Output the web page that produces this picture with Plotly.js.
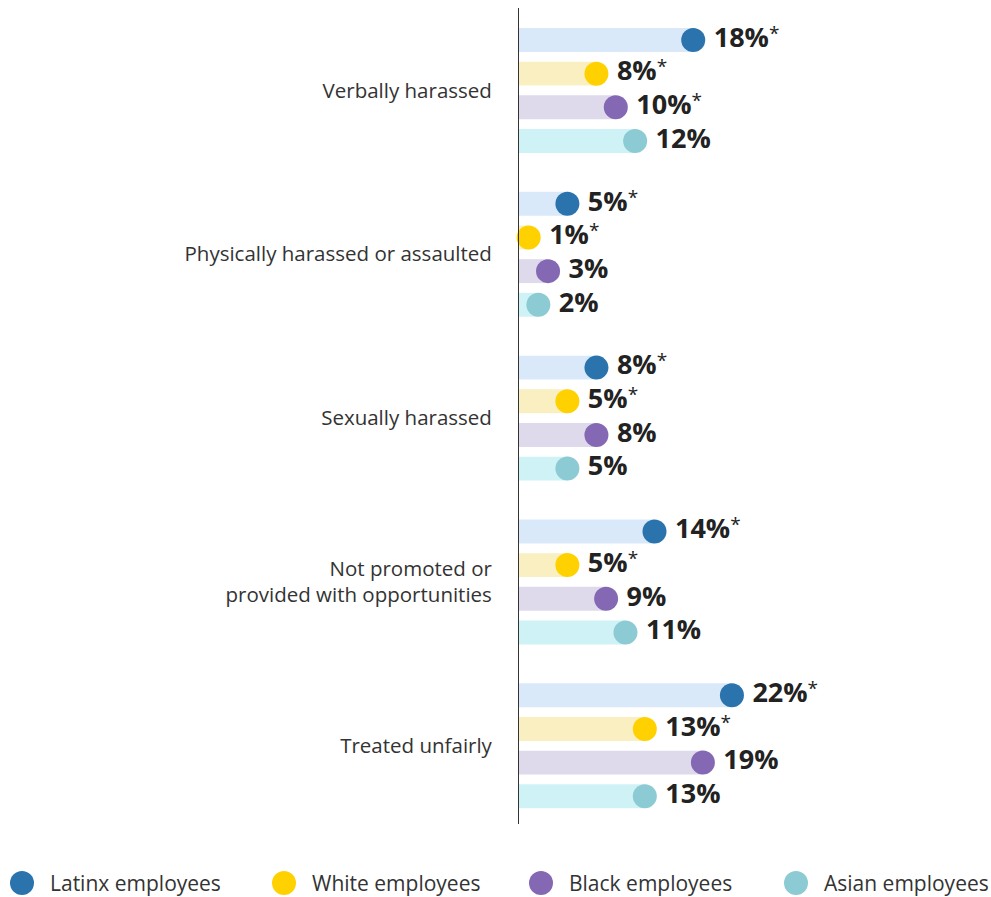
<!DOCTYPE html>
<html>
<head>
<meta charset="utf-8">
<script src="https://cdn.plot.ly/plotly-3.0.1.min.js"></script>
<style>
  html, body { margin: 0; padding: 0; background: #ffffff; }
  #chart { width: 991px; height: 897px; }
</style>
</head>
<body>
<div id="chart"></div>
<script>
// ---- data ----
const categories = [
  'Verbally harassed',
  'Physically harassed or assaulted',
  'Sexually harassed',
  'Not promoted or<br>provided with opportunities',
  'Treated unfairly'
];
const seriesNames = ['Latinx employees', 'White employees', 'Black employees', 'Asian employees'];
const latinx = [18, 5, 8, 14, 22];
const white  = [8, 1, 5, 5, 13];
const black  = [10, 3, 8, 9, 19];
const asian  = [12, 2, 5, 11, 13];
const latinxSig = [true, true, true, true, true];
const whiteSig  = [true, true, true, true, true];
const blackSig  = [true, false, false, false, false];
const asianSig  = [false, false, false, false, false];

// ---- styles ----
const dotColors = ['#2a73ad', '#ffd100', '#8468b4', '#8ccbd4'];
const barColors = ['#d9e9fa', '#f9efc1', '#dfdaeb', '#cff2f6'];
const GROUP_STEP = 164 / 33.7;  // spacing between category groups (in row units)

const W = 991, H = 897;
const M = { l: 519, r: 20, t: 8, b: 73 };
const plotW = W - M.l - M.r, plotH = H - M.t - M.b;
const legendDotX = [22, 284, 541, 796];   // legend layout (pixels)
const legendY = 883;

const seriesVals = [latinx, white, black, asian];
const seriesSig = [latinxSig, whiteSig, blackSig, asianSig];

const STAR = '<span style="font-size:19px;font-weight:normal;baseline-shift:7px">*</span>';

const traces = [];
seriesVals.forEach((vals, s) => {
  const ys = vals.map((v, g) => g * GROUP_STEP + s);
  traces.push({
    type: 'bar', orientation: 'h', name: seriesNames[s],
    x: vals, y: ys, width: 0.71,
    marker: { color: barColors[s], line: { width: 0 } },
    showlegend: false, hoverinfo: 'skip'
  });
});
seriesVals.forEach((vals, s) => {
  const ys = vals.map((v, g) => g * GROUP_STEP + s);
  traces.push({
    type: 'scatter', mode: 'markers+text', name: seriesNames[s],
    x: vals, y: ys,
    text: vals.map((v, g) => '<b>\u2009' + v + '%</b>' + (seriesSig[s][g] ? STAR : '')),
    textposition: 'middle right',
    textfont: { family: 'Open Sans', size: 27, color: '#222222' },
    marker: { color: dotColors[s], size: 24 },
    cliponaxis: false,
    showlegend: false, hoverinfo: 'skip'
  });
});

// custom legend (large dots like the reference)
const px2x = px => (px - M.l) / plotW;
const py2y = py => (H - M.b - py) / plotH;
const shapes = [], annotations = [];
seriesNames.forEach((name, s) => {
  shapes.push({
    type: 'circle', xref: 'paper', yref: 'paper',
    xsizemode: 'pixel', ysizemode: 'pixel',
    xanchor: px2x(legendDotX[s]), yanchor: py2y(legendY),
    x0: -12, x1: 12, y0: -12, y1: 12,
    fillcolor: dotColors[s], line: { width: 0 }
  });
  annotations.push({
    xref: 'paper', yref: 'paper',
    x: px2x(legendDotX[s] + 26), y: py2y(legendY),
    xanchor: 'left', yanchor: 'middle', showarrow: false,
    text: name,
    font: { family: 'Open Sans', size: 21, color: '#333333' }
  });
});

const layout = {
  width: W, height: H,
  margin: { l: M.l, r: M.r, t: M.t, b: M.b, autoexpand: false },
  paper_bgcolor: '#ffffff', plot_bgcolor: '#ffffff',
  barmode: 'overlay',
  showlegend: false,
  font: { family: 'Open Sans', color: '#333333' },
  xaxis: {
    range: [0, 46.7], showgrid: false, zeroline: false,
    showticklabels: false, ticks: '', fixedrange: true
  },
  yaxis: {
    range: [23.29, -0.95], showgrid: false, zeroline: false,
    showline: true, linecolor: '#333333', linewidth: 1,
    tickmode: 'array',
    tickvals: categories.map((c, g) => g * GROUP_STEP + 1.5),
    ticktext: categories,
    ticks: 'outside', ticklen: 22, tickcolor: 'rgba(0,0,0,0)',
    tickfont: { family: 'Open Sans', size: 20.5, color: '#333333' },
    fixedrange: true
  },
  shapes: shapes,
  annotations: annotations
};

Plotly.newPlot('chart', traces, layout, { displayModeBar: false, staticPlot: true });
</script>
</body>
</html>
